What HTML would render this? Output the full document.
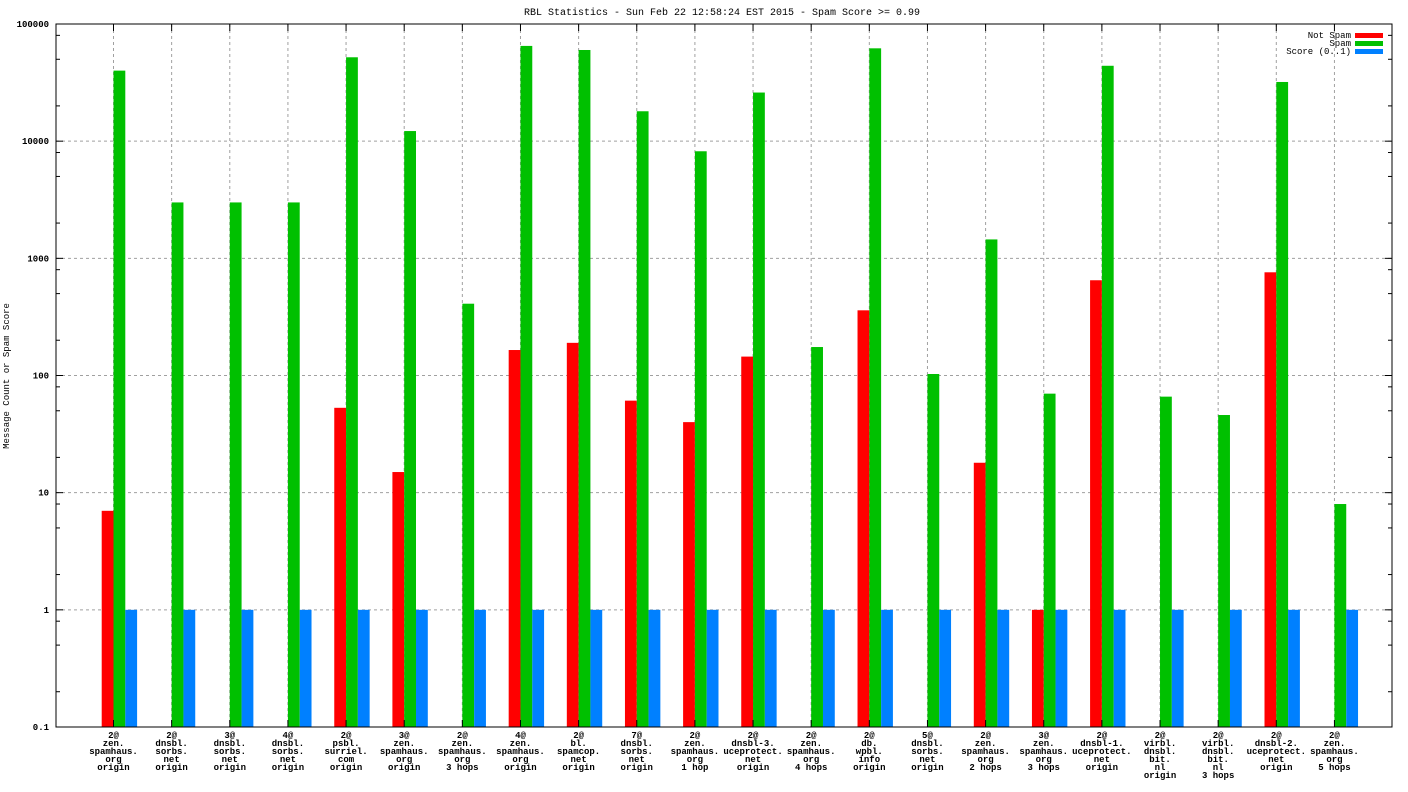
<!DOCTYPE html>
<html><head><meta charset="utf-8"><style>
body{margin:0;background:#fff}
svg{display:block}
text{font-family:"Liberation Mono",monospace;fill:#000}
</style></head><body>
<svg id="chart" width="1408" height="792" xmlns="http://www.w3.org/2000/svg">
<text x="722" y="15" font-size="10" text-anchor="middle">RBL Statistics - Sun Feb 22 12:58:24 EST 2015 - Spam Score &gt;= 0.99</text>
<text transform="translate(9,376) rotate(-90)" font-size="9" text-anchor="middle">Message Count or Spam Score</text>
<g id="grid"></g><g id="bars"></g><g id="axes"></g>
<g>
<text x="1351" y="38" font-size="9" text-anchor="end">Not Spam</text>
<rect x="1355" y="33" width="28" height="5" fill="#ff0000"/>
<text x="1351" y="46" font-size="9" text-anchor="end">Spam</text>
<rect x="1355" y="41" width="28" height="5" fill="#00c000"/>
<text x="1351" y="54" font-size="9" text-anchor="end">Score (0..1)</text>
<rect x="1355" y="49" width="28" height="5" fill="#0080ff"/>
</g>
</svg>
<script>
const categories=[
["2@","zen.","spamhaus.","org","origin"],["2@","dnsbl.","sorbs.","net","origin"],["3@","dnsbl.","sorbs.","net","origin"],["4@","dnsbl.","sorbs.","net","origin"],
["2@","psbl.","surriel.","com","origin"],["3@","zen.","spamhaus.","org","origin"],["2@","zen.","spamhaus.","org","3 hops"],["4@","zen.","spamhaus.","org","origin"],
["2@","bl.","spamcop.","net","origin"],["7@","dnsbl.","sorbs.","net","origin"],["2@","zen.","spamhaus.","org","1 hop"],["2@","dnsbl-3.","uceprotect.","net","origin"],
["2@","zen.","spamhaus.","org","4 hops"],["2@","db.","wpbl.","info","origin"],["5@","dnsbl.","sorbs.","net","origin"],["2@","zen.","spamhaus.","org","2 hops"],
["3@","zen.","spamhaus.","org","3 hops"],["2@","dnsbl-1.","uceprotect.","net","origin"],["2@","virbl.","dnsbl.","bit.","nl","origin"],["2@","virbl.","dnsbl.","bit.","nl","3 hops"],
["2@","dnsbl-2.","uceprotect.","net","origin"],["2@","zen.","spamhaus.","org","5 hops"]];
const notSpam=[7,0,0,0,53,15,0,165,190,61,40,145,0,360,0,18,1,650,0,0,760,0];
const spam=[40000,3000,3000,3000,52000,12200,410,65000,60000,18000,8200,26000,175,62000,103,1450,70,44000,66,46,32000,8];
const score=[1,1,1,1,1,1,1,1,1,1,1,1,1,1,1,1,1,1,1,1,1,1];
const yTicks=[0.1,1,10,100,1000,10000,100000];
const yTickLabels=["0.1","1","10","100","1000","10000","100000"];
const NS="http://www.w3.org/2000/svg";
const L=56,R=1392,T=24,B=727;
function y(v){return B-(Math.log10(v)+1)/6*(B-T);}
function x(i){return 113.5+i*58.14;}
const bw=11.8;
function mk(tag,attrs,parent){const e=document.createElementNS(NS,tag);for(const k in attrs)e.setAttribute(k,attrs[k]);document.getElementById(parent).appendChild(e);return e;}
yTicks.forEach((v,k)=>{
 if(k>0&&k<yTicks.length-1){const g=mk('line',{x1:L,x2:R,y1:y(v),y2:y(v),stroke:'#a0a0a0','stroke-dasharray':'3,3'},'grid');
 
 }
 const t=mk('text',{x:49,y:y(v)+3,'font-size':9,'font-weight':'bold','text-anchor':'end'},'axes');t.textContent=yTickLabels[k];
 
 
 [[L,L+7],[R-7,R]].forEach(p=>{const l=mk('line',{x1:p[0],x2:p[1],y1:y(v),y2:y(v),stroke:'#000'},'axes');
 
 });
 if(k<yTicks.length-1)[2,5,8].forEach(m=>{[[L,L+4],[R-4,R]].forEach(p=>{const l=mk('line',{x1:p[0],x2:p[1],y1:y(v*m),y2:y(v*m),stroke:'#000'},'axes');
 
 });});
});
categories.forEach((c,i)=>{
 const g=mk('line',{x1:x(i),x2:x(i),y1:T,y2:B,stroke:'#a0a0a0','stroke-dasharray':'3,3'},'grid');
 
 
 [[T,T+7],[B-7,B]].forEach(p=>{const l=mk('line',{x1:x(i),x2:x(i),y1:p[0],y2:p[1],stroke:'#000'},'axes');
 
 });
 const t=mk('text',{'font-size':9,'font-weight':'bold','text-anchor':'middle'},'axes');
 
 
 c.forEach((s,j)=>{const ts=mk('tspan',{x:x(i),y:738+j*8},'axes');ts.textContent=s;t.appendChild(ts);});
 [[notSpam,'#ff0000',-bw,'bar-not-spam'],[spam,'#00c000',0,'bar-spam'],[score,'#0080ff',bw,'bar-score']].forEach(s=>{
  const v=s[0][i];if(!v)return;
  const r=mk('rect',{x:x(i)+s[2],y:y(v),width:bw,height:B-y(v),fill:s[1]},'bars');
  
  
 });
});
const f=mk('rect',{x:L,y:T,width:R-L,height:B-T,fill:'none',stroke:'#000'},'axes');


</script>
</body></html>
